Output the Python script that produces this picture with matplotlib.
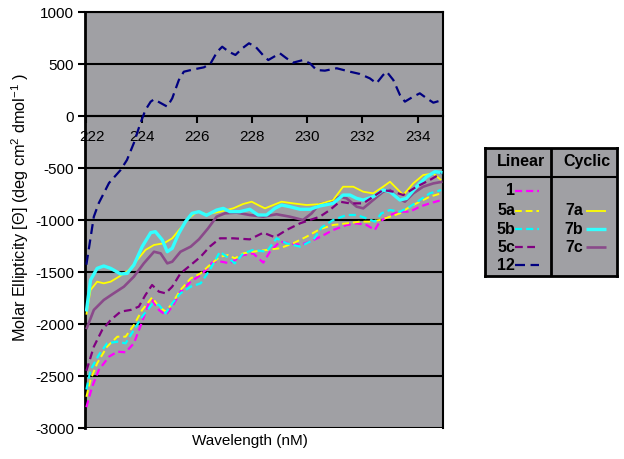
import matplotlib
matplotlib.use("Agg")
import matplotlib.pyplot as plt
from matplotlib.lines import Line2D
from matplotlib.transforms import ScaledTranslation

plt.rcParams['font.family'] = ['Liberation Sans', 'DejaVu Sans']
plt.rcParams['mathtext.fontset'] = 'custom'
plt.rcParams['mathtext.rm'] = 'Liberation Sans'
plt.rcParams['mathtext.default'] = 'regular'
plt.rcParams['axes.unicode_minus'] = False

# values (wavelength nm, molar ellipticity)
x_1 = [222.0, 222.21, 222.45, 222.82, 223.12, 223.42, 223.72, 224.02, 224.26, 224.38, 224.63,
       224.87, 225.11, 225.41, 225.78, 226.14, 226.38, 226.59, 226.9, 227.2, 227.38, 227.68,
       228.04, 228.41, 228.65, 229.01, 229.37, 229.74, 230.1, 230.49, 230.94, 231.43, 231.79,
       232.15, 232.45, 232.63, 233.0, 233.36, 233.72, 234.08, 234.44, 234.87]
y_1 = [-2800, -2603, -2442, -2314, -2266, -2272, -2186, -1978, -1801, -1770, -1865,
       -1913, -1833, -1689, -1593, -1529, -1465, -1401, -1401, -1417, -1385, -1337,
       -1321, -1410, -1305, -1208, -1224, -1240, -1208, -1160, -1096, -1048, -1032,
       -1048, -1096, -1016, -952, -920, -920, -872, -840, -808]

x_5a = [222.0, 222.15, 222.39, 222.75, 223.12, 223.42, 223.72, 224.02, 224.38, 224.63, 224.87,
        225.11, 225.41, 225.78, 226.14, 226.47, 226.84, 227.14, 227.38, 227.68, 228.04, 228.53,
        229.01, 229.49, 229.98, 230.46, 230.94, 231.43, 231.91, 232.27, 232.63, 233.0, 233.36,
        233.72, 234.08, 234.44, 234.85]
y_5a = [-2700, -2538, -2378, -2218, -2122, -2122, -2010, -1865, -1745, -1833, -1881,
        -1801, -1673, -1561, -1513, -1433, -1353, -1337, -1369, -1321, -1305, -1288,
        -1272, -1224, -1160, -1088, -1048, -1032, -1016, -1016, -1000, -968, -936,
        -872, -824, -776, -744]

x_5b = [222.0, 222.15, 222.45, 222.75, 223.12, 223.42, 223.72, 224.02, 224.38, 224.63, 224.87,
        225.11, 225.41, 225.78, 226.14, 226.47, 226.84, 227.08, 227.38, 227.68, 228.04, 228.53,
        228.89, 229.25, 229.74, 230.22, 230.52, 230.94, 231.43, 231.79, 232.15, 232.45, 232.69,
        233.0, 233.36, 233.72, 234.08, 234.44, 234.85]
y_5b = [-2630, -2442, -2298, -2186, -2170, -2186, -2058, -1929, -1809, -1817, -1897,
        -1801, -1705, -1641, -1609, -1481, -1305, -1353, -1417, -1321, -1288, -1305,
        -1176, -1224, -1256, -1192, -1072, -1000, -952, -952, -984, -1016, -936,
        -904, -920, -872, -808, -744, -712]

x_5c = [222.0, 222.27, 222.57, 222.88, 223.24, 223.6, 223.9, 224.14, 224.38, 224.63, 224.87,
        225.11, 225.41, 225.78, 226.14, 226.47, 226.84, 227.32, 227.92, 228.41, 228.83, 229.25,
        229.74, 230.1, 230.46, 230.82, 231.18, 231.55, 232.03, 232.39, 232.75, 233.12, 233.48,
        233.96, 234.44, 234.85]
y_5c = [-2450, -2218, -2058, -1962, -1881, -1865, -1833, -1721, -1625, -1689, -1705,
        -1641, -1513, -1433, -1353, -1256, -1176, -1176, -1186, -1122, -1166, -1096,
        -1032, -1000, -968, -904, -824, -840, -840, -776, -712, -728, -760,
        -680, -616, -552]

x_12 = [222.0, 222.27, 222.45, 222.82, 223.24, 223.47, 223.72, 223.96, 224.14, 224.33, 224.45,
        224.69, 224.93, 225.11, 225.35, 225.53, 225.9, 226.26, 226.5, 226.74, 226.92, 227.16,
        227.4, 227.65, 227.89, 228.13, 228.4, 228.59, 229.01, 229.25, 229.49, 229.85, 230.1,
        230.34, 230.64, 231.07, 231.55, 231.91, 232.27, 232.51, 232.75, 232.88, 233.12, 233.36,
        233.54, 233.84, 234.08, 234.33, 234.57, 234.9]
y_12 = [-1430, -968, -837, -644, -519, -423, -260, -67, 58, 138, 160,
        125, 90, 170, 346, 426, 449, 468, 506, 618, 666, 618,
        587, 651, 699, 666, 585, 538, 603, 555, 513, 538, 506,
        442, 436, 459, 426, 404, 362, 314, 394, 426, 346, 202,
        138, 186, 218, 170, 128, 154]

x_7a = [222.0, 222.15, 222.39, 222.63, 222.88, 223.18, 223.54, 223.84, 224.14, 224.45, 224.81,
        225.11, 225.41, 225.71, 226.01, 226.36, 226.84, 227.32, 227.68, 227.99, 228.22, 228.47,
        228.77, 229.07, 229.49, 229.98, 230.43, 230.94, 231.3, 231.67, 232.03, 232.39, 232.75,
        233.0, 233.24, 233.48, 233.84, 234.2, 234.57, 234.85]
y_7a = [-1910, -1673, -1593, -1609, -1593, -1545, -1481, -1385, -1288, -1240, -1224,
        -1176, -1080, -984, -920, -945, -920, -888, -846, -824, -856, -888,
        -856, -824, -840, -856, -848, -808, -680, -680, -728, -744, -680,
        -632, -696, -760, -648, -568, -552, -616]

x_7b = [222.0, 222.15, 222.39, 222.63, 222.88, 223.24, 223.48, 223.72, 224.02, 224.33, 224.5,
        224.75, 224.93, 225.11, 225.35, 225.59, 225.83, 226.08, 226.35, 226.72, 226.96, 227.2,
        227.56, 227.92, 228.22, 228.53, 228.83, 229.07, 229.37, 229.74, 230.1, 230.46, 230.94,
        231.3, 231.55, 231.79, 232.03, 232.39, 232.75, 233.0, 233.36, 233.6, 233.96, 234.33,
        234.63, 234.9]
y_7b = [-1880, -1577, -1465, -1442, -1465, -1519, -1513, -1433, -1257, -1122, -1112,
        -1192, -1305, -1272, -1128, -1016, -936, -920, -955, -904, -888, -920,
        -920, -897, -952, -952, -888, -856, -872, -897, -897, -865, -840,
        -760, -760, -792, -808, -776, -712, -728, -808, -792, -680, -584,
        -535, -545]

x_7c = [222.0, 222.27, 222.63, 222.99, 223.36, 223.72, 224.08, 224.45, 224.69, 224.93, 225.11,
        225.41, 225.78, 226.08, 226.41, 226.72, 227.02, 227.44, 227.92, 228.41, 228.89, 229.37,
        229.85, 230.16, 230.43, 230.82, 231.18, 231.43, 231.79, 232.03, 232.39, 232.75, 233.0,
        233.3, 233.54, 233.84, 234.2, 234.57, 234.9]
y_7c = [-2050, -1865, -1769, -1705, -1641, -1545, -1417, -1305, -1321, -1417, -1401,
        -1305, -1256, -1185, -1080, -968, -936, -929, -952, -968, -945, -968,
        -1000, -936, -850, -824, -776, -792, -872, -888, -808, -728, -712,
        -792, -824, -744, -680, -648, -632]

linear_names = ['1', '5a', '5b', '5c', '12']
cyclic_names = ['7a', '7b', '7c']

series = {
    '1':  (x_1, y_1, dict(color='#ff00ff', lw=1.6, dashes=(3.2, 1.8))),
    '5a': (x_5a, y_5a, dict(color='#ffff00', lw=1.4, dashes=(3.5, 2))),
    '5b': (x_5b, y_5b, dict(color='#00ffff', lw=1.6, dashes=(3.2, 1.8))),
    '5c': (x_5c, y_5c, dict(color='#800080', lw=1.6, dashes=(3.5, 2))),
    '12': (x_12, y_12, dict(color='#000080', lw=1.6, dashes=(4.5, 2.5))),
    '7a': (x_7a, y_7a, dict(color='#ffff00', lw=1.3)),
    '7b': (x_7b, y_7b, dict(color='#33ffff', lw=2.4)),
    '7c': (x_7c, y_7c, dict(color='#8a4a8a', lw=1.9)),
}

bg = '#a0a0a4'

fig = plt.figure(figsize=(6.24, 4.59), dpi=100)
ax = fig.add_axes([85/624, 1 - 428/459, 358/624, 416/459])
ax.set_facecolor(bg)

for name in ['7c', '7a', '7b', '5c', '1', '5a', '5b', '12']:
    xs, ys, st = series[name]
    ax.plot(xs, ys, solid_capstyle='butt', dash_capstyle='butt', zorder=3, **st)

ax.set_xlim(221.95, 234.92)
ax.set_ylim(-3000, 1000)
ax.set_yticks(range(-3000, 1001, 500))
ax.set_xticks(range(222, 235, 2))
ax.grid(axis='y', color='black', lw=1.5, zorder=1)
ax.set_axisbelow(True)

for s in ['left', 'right', 'top', 'bottom']:
    ax.spines[s].set_color('black')
ax.spines['left'].set_linewidth(2)
ax.spines['right'].set_linewidth(1.5)
ax.spines['top'].set_linewidth(1.5)
ax.spines['bottom'].set_position(('data', 0))
ax.spines['bottom'].set_linewidth(1.5)
ax.spines['bottom'].set_zorder(2)

ax.tick_params(axis='y', direction='out', length=5, width=1.5, labelsize=11, pad=3)
ax.tick_params(axis='x', direction='out', length=5, width=1.5, labelsize=11, pad=5)

# first x label sits a little to the right of its tick, clear of the axis
first = ax.xaxis.get_major_ticks()[0].label1
first.set_transform(first.get_transform() + ScaledTranslation(0.06, 0, fig.dpi_scale_trans))

ax.set_xlabel('Wavelength (nM)', fontsize=11)
ax.xaxis.set_label_coords((250 - 85) / 358, -0.015)
ax.xaxis.label.set_va('top')

fig.text(20/624, 1 - 207/459, r'Molar Ellipticity [Θ] (deg cm$^2$ dmol$^{-1}$ )',
         rotation=90, ha='center', va='center', fontsize=11.7)

# legend table
lx0, ly0, lw_, lh = 485, 148, 132, 128
lax = fig.add_axes([lx0/624, 1 - (ly0 + lh)/459, lw_/624, lh/459])
lax.set_facecolor(bg)
lax.set_xlim(0, lw_)
lax.set_ylim(lh, 0)
lax.set_xticks([])
lax.set_yticks([])
for s in lax.spines.values():
    s.set_linewidth(2)
    s.set_color('black')
lax.axhline(29, color='black', lw=1.5)
lax.axvline(66, color='black', lw=2)
lax.text(36, 14, 'Linear', ha='center', va='center', fontsize=11.5, fontweight='bold')
lax.text(102, 14, 'Cyclic', ha='center', va='center', fontsize=11.5, fontweight='bold')

row_y = [43, 63, 81, 99, 117]
for name, ry in zip(linear_names, row_y):
    st = dict(series[name][2])
    lax.text(30, ry, name, ha='right', va='center', fontsize=11.5, fontweight='bold')
    lax.add_line(Line2D([30, 54], [ry, ry], dash_capstyle='butt', **st))
for name, ry in zip(cyclic_names, row_y[1:4]):
    st = dict(series[name][2])
    lax.text(98, ry, name, ha='right', va='center', fontsize=11.5, fontweight='bold')
    lax.add_line(Line2D([101, 121], [ry, ry], solid_capstyle='butt', **st))

fig.savefig('out.png', dpi=100)
